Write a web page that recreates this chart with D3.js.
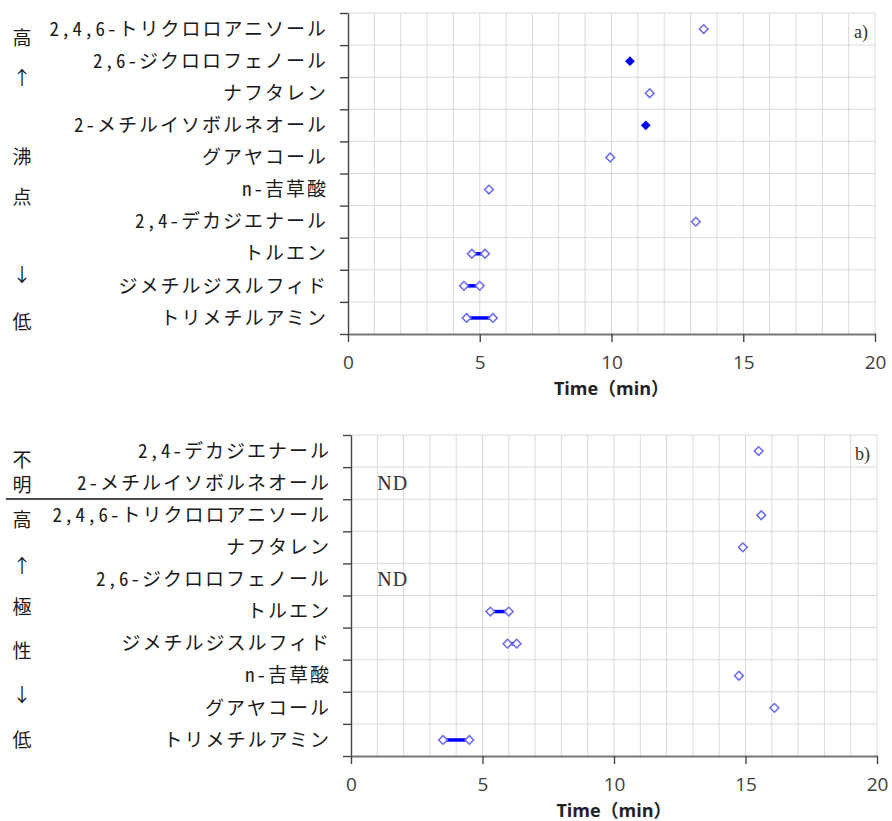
<!DOCTYPE html>
<html>
<head>
<meta charset="utf-8">
<script src="https://cdn.jsdelivr.net/npm/d3@7"></script>
<style>
body { margin: 0; background: #fff; }
.cat { font-family: "Noto Sans CJK JP"; font-size: 19px; font-feature-settings: "hwid"; letter-spacing: 2px; fill: #1a1a1a; }
.side { font-family: "Noto Sans CJK JP"; font-size: 19px; fill: #1a1a1a; }
.tick text { font-family: "Open Sans"; font-size: 19px; fill: #404040; }
.title { font-family: "Open Sans", "Noto Sans CJK JP"; font-size: 18px; font-weight: bold; fill: #222; }
.serif { font-family: "Liberation Serif"; fill: #333; }
</style>
</head>
<body>
<svg id="chart" width="892" height="821"></svg>
<script>
// panel a) – ordered by boiling point
const topCats = ["2,4,6-トリクロロアニソール", "2,6-ジクロロフェノール", "ナフタレン", "2-メチルイソボルネオール",
  "グアヤコール", "n-吉草酸", "2,4-デカジエナール", "トルエン", "ジメチルジスルフィド", "トリメチルアミン"];
const topMin = [13.5, 10.7, 11.45, 11.3, 9.95, 5.35, 13.2, 4.7, 4.4, 4.5];
const topMax = [13.5, 10.7, 11.45, 11.3, 9.95, 5.35, 13.2, 5.2, 5.0, 5.5];
const topFilled = [false, true, false, true, false, false, false, false, false, false];
const topSide = ["高", "↑", "沸", "点", "↓", "低"];

// panel b) – ordered by polarity, null = ND
const botCats = ["2,4-デカジエナール", "2-メチルイソボルネオール", "2,4,6-トリクロロアニソール", "ナフタレン",
  "2,6-ジクロロフェノール", "トルエン", "ジメチルジスルフィド", "n-吉草酸", "グアヤコール", "トリメチルアミン"];
const botMin = [15.5, null, 15.6, 14.9, null, 5.3, 5.95, 14.75, 16.1, 3.5];
const botMax = [15.5, null, 15.6, 14.9, null, 6.0, 6.3, 14.75, 16.1, 4.5];
const botFilled = [false, false, false, false, false, false, false, false, false, false];
const botSide = ["不", "明", "高", "↑", "極", "性", "↓", "低"];

const xTicks = [0, 5, 10, 15, 20];
const xDomain = [0, 20];

const svg = d3.select('#chart');

function drawPanel(p) {
    const n = p.cats.length;
    const x = d3.scaleLinear().domain(xDomain).range([p.left, p.right]);
    const y = d3.scaleBand().domain(d3.range(n)).range([p.top, p.bottom]);
    const yLin = d3.scaleLinear().domain([0, n]).range([p.top, p.bottom]);
    const g = svg.append('g');

    // grid
    g.append('g').selectAll('line').data(d3.range(1, 21)).join('line')
        .attr('x1', d => x(d)).attr('x2', d => x(d))
        .attr('y1', p.top).attr('y2', p.bottom)
        .attr('stroke', '#d9d9d9').attr('stroke-width', 1);
    g.append('g').selectAll('line').data(d3.range(0, n)).join('line')
        .attr('x1', p.left).attr('x2', p.right)
        .attr('y1', d => yLin(d)).attr('y2', d => yLin(d))
        .attr('stroke', '#d9d9d9').attr('stroke-width', 1);

    // y axis, ticks on row boundaries
    const ya = g.append('g')
        .attr('transform', `translate(${p.left},0)`)
        .call(d3.axisLeft(yLin).tickValues(d3.range(0, n + 1)).tickSize(8).tickSizeOuter(0).tickFormat(''));
    ya.selectAll('path, line').attr('stroke', '#444').attr('stroke-width', 1.4);

    // x axis
    const xa = g.append('g')
        .attr('transform', `translate(0,${p.bottom})`)
        .call(d3.axisBottom(x).tickValues(xTicks).tickSize(8).tickSizeOuter(0).tickPadding(14));
    xa.select('.domain').attr('stroke', '#777').attr('stroke-width', 2);
    xa.selectAll('.tick line').attr('stroke', '#444').attr('stroke-width', 1.4);

    // category labels
    g.append('g').selectAll('text').data(p.cats).join('text')
        .attr('class', 'cat')
        .attr('x', p.left - 20)
        .attr('y', (d, i) => y(i) + y.bandwidth() / 2)
        .attr('dy', '0.35em')
        .attr('text-anchor', 'end')
        .text(d => d);

    // ranges
    const rows = p.cats.map((c, i) => ({ i, lo: p.min[i], hi: p.max[i], filled: p.filled[i] }));
    g.append('g').selectAll('line').data(rows.filter(r => r.lo != null && r.hi > r.lo)).join('line')
        .attr('x1', r => x(r.lo)).attr('x2', r => x(r.hi))
        .attr('y1', r => y(r.i) + y.bandwidth() / 2).attr('y2', r => y(r.i) + y.bandwidth() / 2)
        .attr('stroke', '#0000ff').attr('stroke-width', 3.5);

    // markers
    const pts = [];
    rows.forEach(r => {
        if (r.lo == null) return;
        pts.push({ i: r.i, v: r.lo, filled: r.filled });
        if (r.hi !== r.lo) pts.push({ i: r.i, v: r.hi, filled: r.filled });
    });
    const sq = d3.symbol().type(d3.symbolSquare);
    g.append('g').selectAll('path').data(pts).join('path')
        .attr('transform', d => `translate(${x(d.v)},${y(d.i) + y.bandwidth() / 2}) rotate(45)`)
        .attr('d', d => sq.size(d.filled ? 48 : 38)())
        .attr('fill', d => d.filled ? '#0000e6' : '#fff')
        .attr('stroke', d => d.filled ? 'none' : '#6a6af0')
        .attr('stroke-width', 1.5);

    // ND labels
    g.append('g').selectAll('text').data(rows.filter(r => r.lo == null)).join('text')
        .attr('class', 'serif')
        .attr('x', x(1))
        .attr('y', r => y(r.i) + y.bandwidth() / 2)
        .attr('dy', '0.35em')
        .attr('font-size', 20)
        .attr('letter-spacing', 1)
        .text('ND');

    // panel tag
    g.append('text').attr('class', 'serif')
        .attr('x', p.right - 7).attr('y', p.top + 25)
        .attr('text-anchor', 'end').attr('font-size', 18)
        .text(p.tag);

    // axis title
    g.append('text').attr('class', 'title')
        .attr('x', (p.left + p.right) / 2).attr('y', p.bottom + 61)
        .attr('text-anchor', 'middle')
        .text('Time（min）');

    // side annotation
    g.append('g').selectAll('text').data(p.side).join('text')
        .attr('class', 'side')
        .attr('x', 22)
        .attr('y', (d, i) => p.sideY[i])
        .attr('dy', '0.35em')
        .attr('text-anchor', 'middle')
        .attr('font-size', (d, i) => p.sideSize ? p.sideSize[i] : 19)
        .text(d => d);
}

drawPanel({
    cats: topCats, min: topMin, max: topMax, filled: topFilled, tag: 'a)',
    left: 348, right: 875, top: 13, bottom: 334,
    side: topSide, sideY: [38, 78, 157, 197, 275, 322]
});

drawPanel({
    cats: botCats, min: botMin, max: botMax, filled: botFilled, tag: 'b)',
    left: 351, right: 877, top: 435, bottom: 756,
    side: botSide, sideY: [460, 485, 520, 566, 607, 651, 695, 740],
    sideSize: [17, 17, 19, 19, 19, 19, 19, 19]
});

// divider between unknown and ranked groups
svg.append('line')
    .attr('x1', 6).attr('x2', 323).attr('y1', 499).attr('y2', 499)
    .attr('stroke', '#111').attr('stroke-width', 1.5);
</script>
</body>
</html>
